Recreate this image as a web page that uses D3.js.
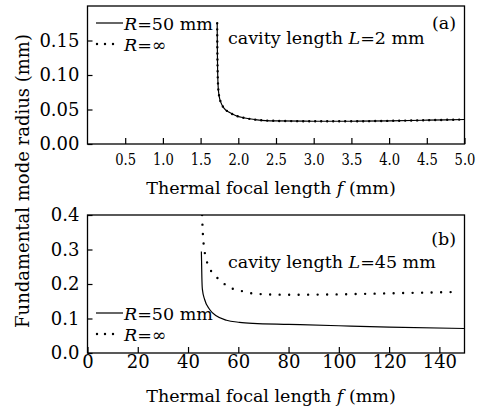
<!DOCTYPE html>
<html><head><meta charset="utf-8">
<script src="https://cdn.jsdelivr.net/npm/d3@7"></script>
<style>
html,body{margin:0;padding:0;background:#fff;}
svg{display:block;font-family:"DejaVu Serif",serif;}
</style></head>
<body><svg id="c" width="480" height="412"></svg>
<script>
// ---- data ----
const aXTicks = [0.5,1.0,1.5,2.0,2.5,3.0,3.5,4.0,4.5,5.0];
const aYTicks = [0.00,0.05,0.10,0.15];
const bXTicks = [0,20,40,60,80,100,120,140];
const bYTicks = [0.0,0.1,0.2,0.3,0.4];

// panel (a), L = 2 mm
const aF_R50  = [1.72,1.722,1.726,1.733,1.745,1.77,1.81,1.88,1.97,2.07,2.25,2.5,3.0,3.5,4.0,4.5,5.0];
const aW_R50  = [0.175,0.14,0.105,0.083,0.070,0.060,0.052,0.046,0.041,0.038,0.035,0.0335,0.033,0.033,0.0335,0.0345,0.0355];
const aF_Rinf = [1.72,1.722,1.726,1.733,1.745,1.77,1.81,1.88,1.97,2.07,2.25,2.5,3.0,3.5,4.0,4.5,5.0];
const aW_Rinf = [0.175,0.14,0.105,0.083,0.070,0.060,0.052,0.046,0.041,0.038,0.035,0.0335,0.033,0.033,0.0335,0.0345,0.0355];

// panel (b), L = 45 mm
const bF_R50  = [45.3,45.4,45.5,45.7,46.6,48.6,51.2,55.3,60.5,65.8,80,100,120,150];
const bW_R50  = [0.294,0.26,0.22,0.185,0.155,0.126,0.108,0.095,0.089,0.086,0.083,0.079,0.075,0.071];
const bF_Rinf = [45.6,45.8,46.1,46.6,47.3,48.6,50.6,53.3,56.6,60.6,67.8,80,100,120,148];
const bW_Rinf = [0.40,0.36,0.325,0.294,0.270,0.245,0.226,0.207,0.190,0.181,0.171,0.169,0.170,0.173,0.177];

const svg = d3.select("#c");
const L = 87.5, R = 464.5;
const FS = 17.5;

function panel(cfg){
  const x = d3.scaleLinear().domain(cfg.xd).range([L,R]);
  const y = d3.scaleLinear().domain(cfg.yd).range([cfg.bot,cfg.top]);
  const g = svg.append("g");
  g.append("rect").attr("x",L).attr("y",cfg.top).attr("width",R-L).attr("height",cfg.bot-cfg.top)
   .attr("fill","none").attr("stroke","#000").attr("stroke-width",1.3);
  const xa = g.append("g").attr("transform",`translate(0,${cfg.bot})`)
    .call(d3.axisBottom(x).tickValues(cfg.xt).tickSizeInner(-6).tickSizeOuter(0).tickPadding(cfg.xpad).tickFormat(cfg.xf));
  xa.select(".domain").remove();
  xa.selectAll("line").attr("stroke","#000").attr("stroke-width",1.2);
  xa.selectAll("text").attr("font-size",cfg.xfs).attr("font-family","DejaVu Serif").attr("fill","#000");
  if(cfg.xcond){
    xa.selectAll(".tick text").attr("transform",`scale(${cfg.xcond},1)`);
  }
  const ya = g.append("g").attr("transform",`translate(${L},0)`)
    .call(d3.axisLeft(y).tickValues(cfg.yt).tickSizeInner(-5).tickSizeOuter(0).tickPadding(8).tickFormat(cfg.yf));
  ya.select(".domain").remove();
  ya.selectAll("line").attr("stroke","#000").attr("stroke-width",1.2);
  ya.selectAll("text").attr("font-size",18).attr("font-family","DejaVu Serif").attr("fill","#000");

  const line = d3.line().x(d=>x(d[0])).y(d=>y(d[1])).curve(d3.curveMonotoneX);
  const clipId = "clip"+cfg.name;
  svg.append("clipPath").attr("id",clipId).append("rect")
    .attr("x",L).attr("y",cfg.top).attr("width",R-L).attr("height",cfg.bot-cfg.top);
  const cg = g.append("g").attr("clip-path",`url(#${clipId})`);
  cg.append("path").datum(d3.zip(cfg.f1,cfg.w1)).attr("d",line)
    .attr("fill","none").attr("stroke","#000").attr("stroke-width",1.2);
  cg.append("path").datum(d3.zip(cfg.f2,cfg.w2)).attr("d",line)
    .attr("fill","none").attr("stroke","#000").attr("stroke-width",2.4)
    .attr("stroke-linecap","round").attr("stroke-dasharray",cfg.dash);

  // legend
  const ly1 = cfg.ly, ly2 = cfg.ly+21;
  g.append("line").attr("x1",96).attr("x2",123).attr("y1",ly1).attr("y2",ly1)
    .attr("stroke","#000").attr("stroke-width",1.2);
  g.append("line").attr("x1",97).attr("x2",114).attr("y1",ly2).attr("y2",ly2)
    .attr("stroke","#000").attr("stroke-width",2.4).attr("stroke-linecap","round").attr("stroke-dasharray","0 8");
  const t1 = g.append("text").attr("x",124).attr("y",ly1+7).attr("font-size",FS);
  t1.append("tspan").attr("font-style","italic").text("R");
  t1.append("tspan").text("=50 mm");
  const t2 = g.append("text").attr("x",124).attr("y",ly2+7).attr("font-size",FS);
  t2.append("tspan").attr("font-style","italic").text("R");
  t2.append("tspan").text("=∞");

  // annotations
  const ann = g.append("text").attr("x",228).attr("y",cfg.annY).attr("font-size",FS);
  ann.append("tspan").text("cavity length ");
  ann.append("tspan").attr("font-style","italic").text("L");
  ann.append("tspan").text(cfg.annTxt);
  g.append("text").attr("x",456).attr("y",cfg.labY).attr("text-anchor","end").attr("font-size",FS).text(cfg.lab);

  // x title
  const xt = g.append("text").attr("x",271).attr("y",cfg.xtY).attr("text-anchor","middle").attr("font-size",FS);
  xt.append("tspan").text("Thermal focal length ");
  xt.append("tspan").attr("font-style","italic").text("f");
  xt.append("tspan").text(" (mm)");
}

panel({name:"a", xd:[0,5], yd:[0,0.2], top:6, bot:144, xt:aXTicks, yt:aYTicks,
  xf:d3.format(".1f"), yf:d3.format(".2f"), xpad:9, xfs:17.5, xcond:0.75,
  f1:aF_R50, w1:aW_R50, f2:aF_Rinf, w2:aW_Rinf, dash:"0 6",
  ly:23, annY:44, annTxt:"=2 mm", labY:29, lab:"(a)", xtY:194});
panel({name:"b", xd:[0,150], yd:[0,0.4], top:215, bot:353, xt:bXTicks, yt:bYTicks,
  xf:d3.format("d"), yf:d3.format(".1f"), xpad:2, xfs:18, xcond:0,
  f1:bF_R50, w1:bW_R50, f2:bF_Rinf, w2:bW_Rinf, dash:"0 9.5",
  ly:313, annY:268, annTxt:"=45 mm", labY:245, lab:"(b)", xtY:402});

svg.append("text").attr("transform","translate(29,181) rotate(-90)")
  .attr("text-anchor","middle").attr("font-size",18).text("Fundamental mode radius (mm)");
</script></body></html>
